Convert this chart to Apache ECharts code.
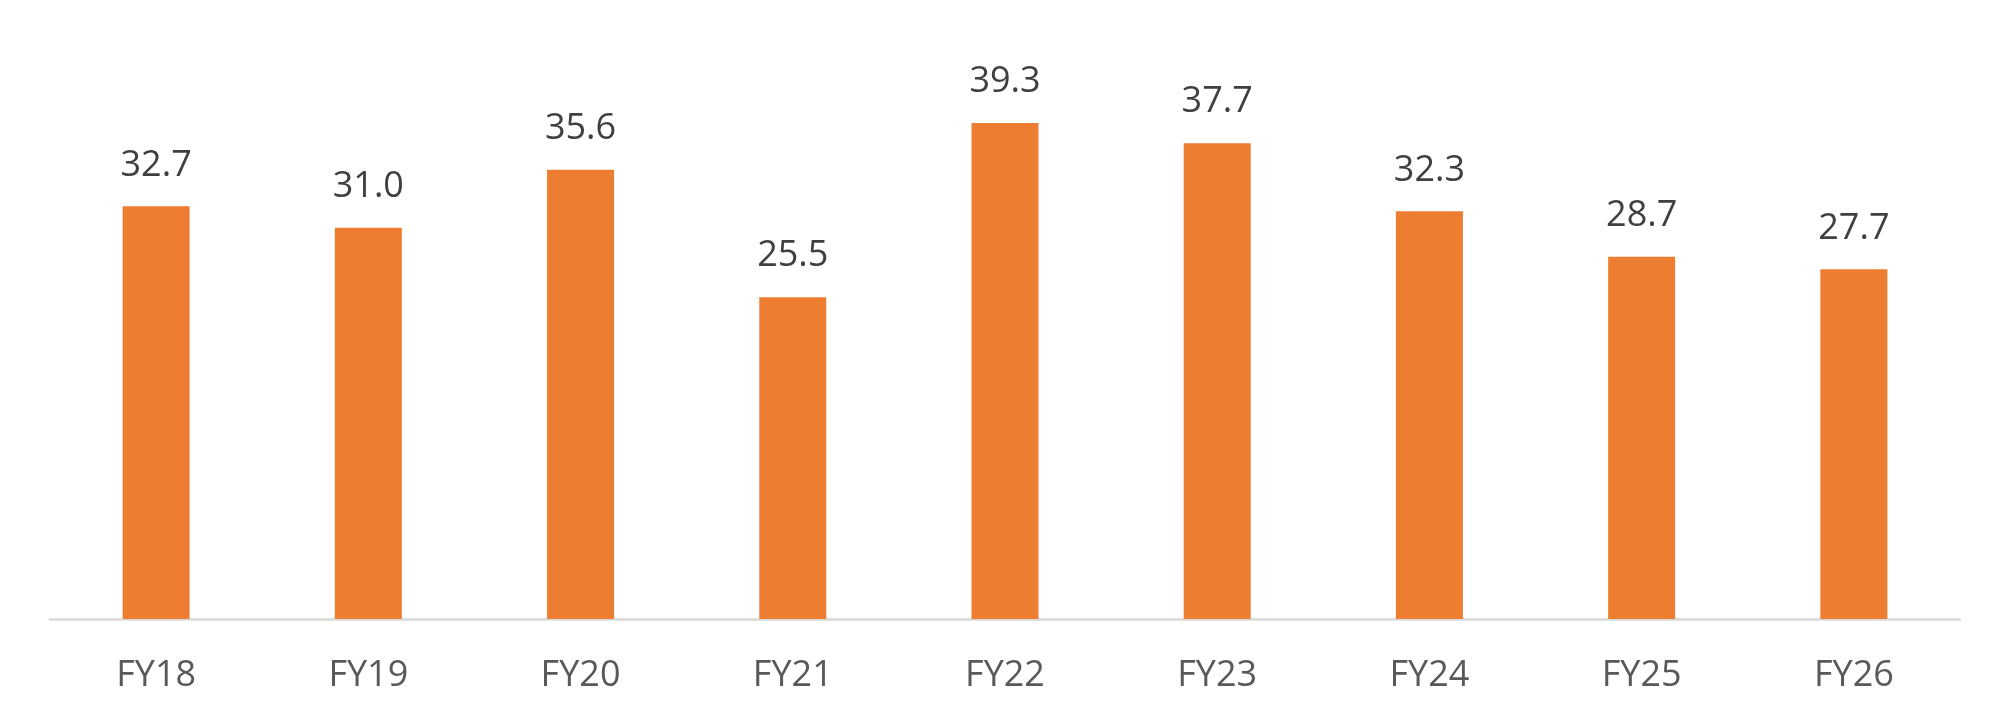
<!DOCTYPE html>
<html>
<head>
<meta charset="utf-8">
<script src="https://cdn.jsdelivr.net/npm/echarts@6/dist/echarts.min.js"></script>
<style>
html,body{margin:0;padding:0;background:#fff;}
#chart{width:2011px;height:726px;}
</style>
</head>
<body>
<div id="chart"></div>
<script>
const categories = ['FY18','FY19','FY20','FY21','FY22','FY23','FY24','FY25','FY26'];
const values = [32.7, 31.0, 35.6, 25.5, 39.3, 37.7, 32.3, 28.7, 27.7];

const chart = echarts.init(document.getElementById('chart'), null, {renderer:'canvas'});
chart.setOption({
  backgroundColor: '#ffffff',
  animation: false,
  grid: {left: 50, right: 51, top: 51, bottom: 107, containLabel: false},
  xAxis: {
    type: 'category',
    data: categories,
    axisLine: {show: true, lineStyle: {color: '#D9D9D9', width: 2.5}},
    axisTick: {show: false},
    axisLabel: {
      color: '#595959', fontFamily: 'Open Sans', fontSize: 36, lineHeight: 36, margin: 39
    }
  },
  yAxis: {
    type: 'value', min: 0, max: 45,
    show: false,
    splitLine: {show: false}
  },
  series: [{
    type: 'bar',
    data: values,
    barWidth: 67,
    itemStyle: {color: '#ED7D31'},
    label: {
      show: true, position: 'top', distance: 23,
      color: '#404040', fontFamily: 'Open Sans', fontSize: 36, lineHeight: 36,
      formatter: p => p.value.toFixed(1)
    }
  }]
});
</script>
</body>
</html>
